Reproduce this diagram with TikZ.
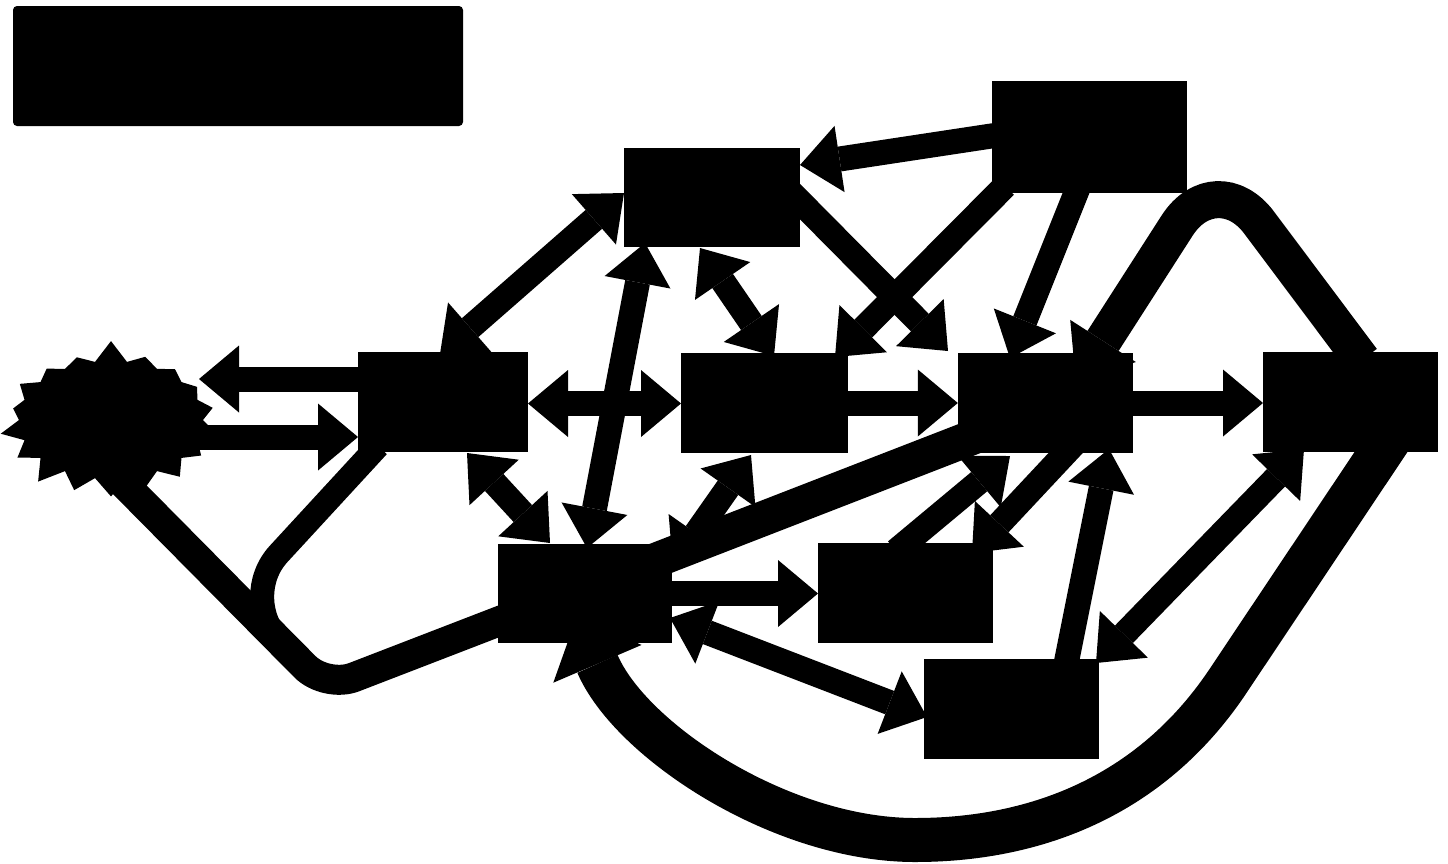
\documentclass[tikz,border=0pt]{standalone}
\usetikzlibrary{arrows.meta,shapes.symbols,calc}
\tikzset{
  box/.style={rectangle, fill=black, draw=none, inner sep=0pt},
  Hd/.tip={Triangle[length=40pt,width=67pt,line width=0pt]},
  BigHd/.tip={Triangle[length=50pt,width=78pt,line width=0pt]},
  HugeHd/.tip={Triangle[length=52pt,width=96pt,line width=0pt]},
  conn/.style={line width=25pt, black},
}
\begin{document}
\begin{tikzpicture}[x=1pt,y=-1pt]
\useasboundingbox (0,0) rectangle (1448,863);
\fill[white] (0,0) rectangle (1448,863);
% nodes
\node[box, rounded corners=4pt, minimum width=450pt, minimum height=120pt] (T) at (238,66) {};
\node[box, minimum width=195pt, minimum height=112pt] (A) at (1089.5,137) {};
\node[box, minimum width=176pt, minimum height=99pt] (B) at (712,197.5) {};
\node[box, minimum width=170pt, minimum height=100pt] (C) at (443,402) {};
\node[box, minimum width=167pt, minimum height=100pt] (D) at (764.5,403) {};
\node[box, minimum width=175pt, minimum height=100pt] (E) at (1045.5,403) {};
\node[box, minimum width=175pt, minimum height=100pt] (F) at (1350.5,402) {};
\node[box, minimum width=174pt, minimum height=99pt] (G) at (585,593.5) {};
\node[box, minimum width=175pt, minimum height=100pt] (H) at (905.5,593) {};
\node[box, minimum width=175pt, minimum height=100pt] (I) at (1011.5,709) {};
\node[starburst, fill=black, draw=none, inner sep=0pt, minimum width=228pt, minimum height=162pt,
      starburst points=18, starburst point height=22pt, random starburst=7] (S) at (111,420) {};
% waypoints
\coordinate (loopTop) at (1216,165);
\coordinate (lc1) at (238,598);
\coordinate (lc2) at (326,688);
\coordinate (lc3) at (300,662);
\coordinate (bc) at (1230,678);
\coordinate (bb) at (915,840);
% connectors
\draw[conn,-Hd] ([shift={(-85,-23)}]C.center) -- ([shift={(88,-41)}]S.center);
\draw[conn,-Hd] ([shift={(80,17)}]S.center) -- ([shift={(-85,35)}]C.center);
\draw[conn,Hd-Hd] ([shift={(-88,-4.5)}]B.center) -- ([shift={(-3,-48)}]C.center);
\draw[conn,Hd-Hd] ([shift={(-12,50.5)}]B.center) -- ([shift={(9.5,-47)}]D.center);
\draw[conn,Hd-Hd] ([shift={(2,-45.5)}]G.center) -- ([shift={(-67,45.5)}]B.center);
\draw[conn,Hd-Hd] ([shift={(85,1.5)}]C.center) -- ([shift={(-83.5,0.5)}]D.center);
\draw[conn,Hd-Hd] ([shift={(24,51)}]C.center) -- ([shift={(-35,-50.5)}]G.center);
\draw[conn,Hd-Hd] ([shift={(-13.5,52)}]D.center) -- ([shift={(88,-27.5)}]G.center);
\draw[line width=35pt] ([shift={(65,-31)}]G.center) -- ([shift={(-70.5,33.4)}]E.center);
\draw[line width=24pt, rounded corners=60pt] ([shift={(-65,44)}]C.center) -- (lc1) -- (lc3);
\draw[line width=30pt, rounded corners=30pt] ([shift={(-21,29.5)}]S.center) -- (lc2) -- ([shift={(-75,23.5)}]G.center);
\draw[conn,-Hd] ([shift={(-85,-3)}]A.center) -- ([shift={(88,-32.5)}]B.center);
\draw[conn,-Hd] ([shift={(-84.5,49)}]A.center) -- ([shift={(70.5,-46)}]D.center);
\draw[conn,-Hd] ([shift={(78,-6)}]B.center) -- ([shift={(-97.5,-52)}]E.center);
\draw[conn,-Hd] ([shift={(-9.5,46)}]A.center) -- ([shift={(-35.5,-45)}]E.center);
\draw[line width=37pt, rounded corners=72pt, -BigHd] ([shift={(11.5,-42)}]F.center) -- (loopTop) -- ([shift={(30.5,-20)}]E.center);
\draw[conn,-Hd] (E.east) -- ([shift={(-87.5,1)}]F.center);
\draw[conn,-Hd] (D.east) -- (E.west);
\draw[conn,-Hd] ([shift={(29.5,40)}]E.center) -- ([shift={(66.5,-40)}]H.center);
\draw[conn,-Hd] ([shift={(-9.5,-42)}]H.center) -- ([shift={(-35.5,53)}]E.center);
\draw[conn,-Hd] ([shift={(53.5,-40)}]I.center) -- ([shift={(63.5,46)}]E.center);
\draw[conn,Hd-Hd] ([shift={(-46.5,47)}]F.center) -- ([shift={(84.5,-46)}]I.center);
\draw[conn,-Hd] (G.east) -- ([shift={(-87.5,0.5)}]H.center);
\draw[conn,Hd-Hd] ([shift={(85,24.5)}]G.center) -- ([shift={(-84.5,8)}]I.center);
\draw[line width=44pt, -HugeHd] ([shift={(40.5,35)}]F.center) -- (bc)
  .. controls (1150,800) and (1030,840) .. (bb)
  .. controls (780,840) and (630,740) .. ([shift={(-8,22.5)}]G.center);
\end{tikzpicture}
\end{document}
